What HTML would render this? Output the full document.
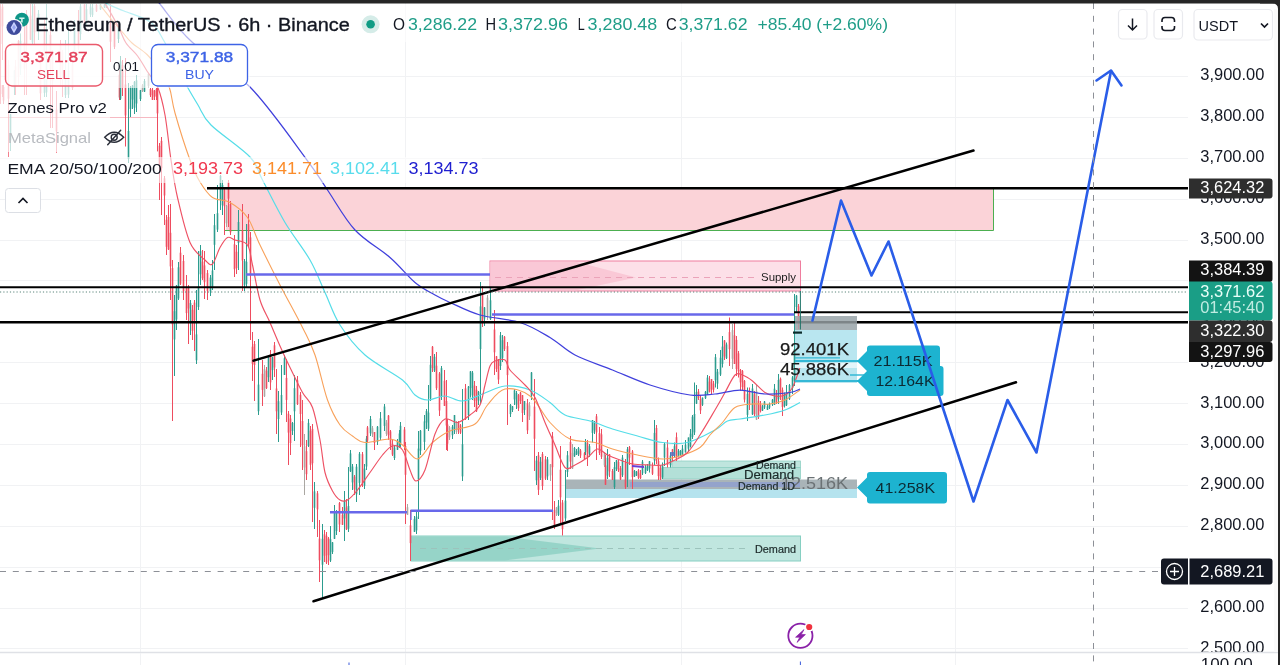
<!DOCTYPE html><html><head><meta charset="utf-8"><title>ETHUSDT chart</title>
<style>html,body{margin:0;padding:0;background:#fff;overflow:hidden}svg{display:block}text{font-family:"Liberation Sans",Arial,sans-serif}</style></head><body>
<svg width="1280" height="665" viewBox="0 0 1280 665">
<rect width="1280" height="665" fill="#fff"/>
<g stroke="#f1f2f4" stroke-width="1" shape-rendering="crispEdges">
<line x1="0" y1="648.5" x2="1188" y2="648.5"/>
<line x1="0" y1="608.5" x2="1188" y2="608.5"/>
<line x1="0" y1="567.5" x2="1188" y2="567.5"/>
<line x1="0" y1="526.5" x2="1188" y2="526.5"/>
<line x1="0" y1="485.5" x2="1188" y2="485.5"/>
<line x1="0" y1="444.5" x2="1188" y2="444.5"/>
<line x1="0" y1="403.5" x2="1188" y2="403.5"/>
<line x1="0" y1="362.5" x2="1188" y2="362.5"/>
<line x1="0" y1="321.5" x2="1188" y2="321.5"/>
<line x1="0" y1="280.5" x2="1188" y2="280.5"/>
<line x1="0" y1="240.5" x2="1188" y2="240.5"/>
<line x1="0" y1="199.5" x2="1188" y2="199.5"/>
<line x1="0" y1="158.5" x2="1188" y2="158.5"/>
<line x1="0" y1="117.5" x2="1188" y2="117.5"/>
<line x1="0" y1="76.5" x2="1188" y2="76.5"/>
<line x1="140.5" y1="3" x2="140.5" y2="665"/>
<line x1="405.5" y1="3" x2="405.5" y2="665"/>
<line x1="681.5" y1="3" x2="681.5" y2="665"/>
<line x1="955.5" y1="3" x2="955.5" y2="665"/>
</g>
<rect x="226" y="189" width="767" height="41.5" fill="#fbd3d8"/>
<path d="M224 230.5H993.5V189" fill="none" stroke="#4caf50" stroke-width="1"/>
<defs><linearGradient id="sg" x1="0" x2="1" y1="0" y2="0"><stop offset="0" stop-color="#f5a3bd"/><stop offset="1" stop-color="#f9c3d3"/></linearGradient>
<linearGradient id="dg" x1="0" x2="1" y1="0" y2="0"><stop offset="0" stop-color="#5dbdac"/><stop offset="1" stop-color="#8fd2c6"/></linearGradient></defs>
<rect x="490" y="261" width="310.5" height="30" fill="#fde0e8" stroke="#ef7d9e" stroke-width="1"/>
<path d="M490 261.5H575L636 277.5L575 290.5H490Z" fill="#f9c3d2" opacity="0.85"/>
<line x1="495" y1="277.5" x2="756" y2="277.5" stroke="#eba3b9" stroke-width="1" stroke-dasharray="6 5"/>
<text x="761" y="280.5" font-size="10.5" fill="#222" textLength="35" lengthAdjust="spacingAndGlyphs">Supply</text>
<rect x="411" y="536" width="389.5" height="25" fill="#c0e6df" stroke="#86cfc2" stroke-width="1"/>
<path d="M411 536.5H505L600 548.5L505 560.5H411Z" fill="#93d3c6" opacity="0.95"/>
<line x1="420" y1="548.5" x2="750" y2="548.5" stroke="#9cc3bc" stroke-width="1" stroke-dasharray="6 5"/>
<rect x="672" y="461" width="128.5" height="6.5" fill="#bfe5de" stroke="#8fd0c4" stroke-width="0.8"/>
<rect x="663" y="467.5" width="137.5" height="11.5" fill="#b3e0d8" stroke="#8fd0c4" stroke-width="0.8"/>
<rect x="566" y="479.5" width="291" height="9.5" fill="#a9b4b8"/>
<rect x="630" y="482" width="170" height="5" fill="#8f9fcf" opacity="0.8"/>
<rect x="566" y="489" width="291" height="9" fill="#b5e3ee"/>
<rect x="795" y="316" width="62" height="14" fill="#a7b1b5"/>
<rect x="795" y="330" width="62" height="53" fill="#b9e6f0"/>
<line x1="0" y1="117.5" x2="157" y2="117.5" stroke="#f6b9c2" stroke-width="1"/>
<g opacity="0.7"><rect x="0" y="4.0" width="1" height="100.0" fill="#ee4c5f"/><rect x="-0.3" y="9.0" width="1.6" height="35.0" fill="#ee4c5f"/><rect x="2" y="4.0" width="1" height="56.0" fill="#ee4c5f"/><rect x="1.7" y="6.8" width="1.6" height="19.6" fill="#ee4c5f"/><rect x="2" y="85.0" width="1" height="12.0" fill="#ee4c5f"/><rect x="1.7" y="85.2" width="1.6" height="8.9" fill="#ee4c5f"/><rect x="3" y="85.0" width="1" height="19.0" fill="#ee4c5f"/><rect x="2.7" y="87.0" width="1.6" height="13.5" fill="#ee4c5f"/><rect x="8" y="60.0" width="1" height="97.0" fill="#ee4c5f"/><rect x="7.7" y="64.8" width="1.6" height="33.9" fill="#ee4c5f"/><rect x="10" y="114.0" width="1" height="37.0" fill="#2c9c8e"/><rect x="9.7" y="114.4" width="1.6" height="26.0" fill="#2c9c8e"/><rect x="14" y="70.0" width="1" height="25.0" fill="#2c9c8e"/><rect x="13.7" y="70.6" width="1.6" height="17.0" fill="#2c9c8e"/><rect x="15" y="60.0" width="1" height="35.0" fill="#ee4c5f"/><rect x="14.7" y="66.3" width="1.6" height="20.2" fill="#ee4c5f"/><rect x="18" y="40.0" width="1" height="45.0" fill="#ee4c5f"/><rect x="17.7" y="41.1" width="1.6" height="35.9" fill="#ee4c5f"/><rect x="20" y="30.0" width="1" height="45.0" fill="#2c9c8e"/><rect x="19.7" y="40.8" width="1.6" height="27.8" fill="#2c9c8e"/><rect x="24" y="20.0" width="1" height="75.0" fill="#ee4c5f"/><rect x="23.7" y="42.5" width="1.6" height="26.2" fill="#ee4c5f"/><rect x="26" y="10.0" width="1" height="85.0" fill="#ee4c5f"/><rect x="25.7" y="14.2" width="1.6" height="29.7" fill="#ee4c5f"/><rect x="30" y="4.0" width="1" height="36.0" fill="#ee4c5f"/><rect x="29.7" y="15.6" width="1.6" height="24.1" fill="#ee4c5f"/><rect x="32" y="4.0" width="1" height="41.0" fill="#2c9c8e"/><rect x="31.7" y="19.3" width="1.6" height="23.1" fill="#2c9c8e"/><rect x="34" y="4.0" width="1" height="41.0" fill="#ee4c5f"/><rect x="33.7" y="6.1" width="1.6" height="26.1" fill="#ee4c5f"/><rect x="38" y="10.0" width="1" height="30.0" fill="#2c9c8e"/><rect x="37.7" y="13.8" width="1.6" height="17.6" fill="#2c9c8e"/><rect x="40" y="60.0" width="1" height="40.0" fill="#ee4c5f"/><rect x="39.7" y="61.5" width="1.6" height="31.8" fill="#ee4c5f"/><rect x="44" y="20.0" width="1" height="40.0" fill="#ee4c5f"/><rect x="43.7" y="27.0" width="1.6" height="29.0" fill="#ee4c5f"/><rect x="44" y="70.0" width="1" height="27.0" fill="#2c9c8e"/><rect x="43.7" y="75.0" width="1.6" height="17.9" fill="#2c9c8e"/><rect x="46" y="4.0" width="1" height="93.0" fill="#2c9c8e"/><rect x="45.7" y="59.8" width="1.6" height="32.5" fill="#2c9c8e"/><rect x="50" y="30.0" width="1" height="98.0" fill="#ee4c5f"/><rect x="49.7" y="34.9" width="1.6" height="34.3" fill="#ee4c5f"/><rect x="52" y="50.0" width="1" height="78.0" fill="#ee4c5f"/><rect x="51.7" y="53.9" width="1.6" height="27.3" fill="#ee4c5f"/><rect x="56" y="91.0" width="1" height="62.0" fill="#ee4c5f"/><rect x="55.7" y="109.6" width="1.6" height="21.7" fill="#ee4c5f"/><rect x="60" y="40.0" width="1" height="45.0" fill="#ee4c5f"/><rect x="59.7" y="44.5" width="1.6" height="30.5" fill="#ee4c5f"/><rect x="62" y="50.0" width="1" height="47.0" fill="#ee4c5f"/><rect x="61.7" y="52.4" width="1.6" height="16.4" fill="#ee4c5f"/><rect x="65" y="40.0" width="1" height="58.0" fill="#2c9c8e"/><rect x="64.7" y="74.8" width="1.6" height="20.3" fill="#2c9c8e"/><rect x="68" y="30.0" width="1" height="68.0" fill="#2c9c8e"/><rect x="67.7" y="70.8" width="1.6" height="23.8" fill="#2c9c8e"/><rect x="72" y="60.0" width="1" height="30.0" fill="#ee4c5f"/><rect x="71.7" y="64.4" width="1.6" height="23.6" fill="#ee4c5f"/><rect x="74" y="20.0" width="1" height="40.0" fill="#2c9c8e"/><rect x="73.7" y="28.7" width="1.6" height="24.9" fill="#2c9c8e"/><rect x="78" y="10.0" width="1" height="40.0" fill="#ee4c5f"/><rect x="77.7" y="20.2" width="1.6" height="28.3" fill="#ee4c5f"/><rect x="80" y="4.0" width="1" height="36.0" fill="#2c9c8e"/><rect x="79.7" y="6.4" width="1.6" height="27.7" fill="#2c9c8e"/><rect x="84" y="4.0" width="1" height="26.0" fill="#ee4c5f"/><rect x="83.7" y="4.5" width="1.6" height="21.9" fill="#ee4c5f"/><rect x="86" y="4.0" width="1" height="21.0" fill="#2c9c8e"/><rect x="85.7" y="9.2" width="1.6" height="14.2" fill="#2c9c8e"/><rect x="90" y="4.0" width="1" height="13.0" fill="#2c9c8e"/><rect x="89.7" y="6.6" width="1.6" height="7.7" fill="#2c9c8e"/><rect x="92" y="4.0" width="1" height="13.0" fill="#2c9c8e"/><rect x="91.7" y="7.8" width="1.6" height="7.3" fill="#2c9c8e"/><rect x="96" y="4.0" width="1" height="8.0" fill="#ee4c5f"/><rect x="95.7" y="5.0" width="1.6" height="6.2" fill="#ee4c5f"/><rect x="100" y="4.0" width="1" height="6.0" fill="#2c9c8e"/><rect x="99.7" y="4.4" width="1.6" height="4.9" fill="#2c9c8e"/><rect x="104" y="4.0" width="1" height="4.0" fill="#2c9c8e"/><rect x="103.7" y="4.6" width="1.6" height="3.0" fill="#2c9c8e"/><rect x="106" y="4.0" width="1" height="4.0" fill="#2c9c8e"/><rect x="105.7" y="4.5" width="1.6" height="2.9" fill="#2c9c8e"/></g>
<g><rect x="110" y="4.0" width="1" height="58.0" fill="#ee4c5f"/><rect x="109.7" y="21.4" width="1.6" height="20.3" fill="#ee4c5f"/><rect x="114" y="24.0" width="1" height="25.0" fill="#ee4c5f"/><rect x="113.7" y="26.0" width="1.6" height="20.8" fill="#ee4c5f"/><rect x="118" y="26.0" width="1" height="17.0" fill="#2c9c8e"/><rect x="117.7" y="26.3" width="1.6" height="12.7" fill="#2c9c8e"/><rect x="119" y="70.0" width="1" height="30.0" fill="#ee4c5f"/><rect x="118.7" y="74.7" width="1.6" height="22.8" fill="#ee4c5f"/><rect x="120" y="56.0" width="1" height="44.0" fill="#2c9c8e"/><rect x="119.7" y="61.5" width="1.6" height="37.3" fill="#2c9c8e"/><rect x="122" y="60.0" width="1" height="36.0" fill="#ee4c5f"/><rect x="121.7" y="65.1" width="1.6" height="22.9" fill="#ee4c5f"/><rect x="125" y="58.0" width="1" height="88.5" fill="#ee4c5f"/><rect x="124.7" y="84.5" width="1.6" height="31.0" fill="#ee4c5f"/><rect x="128" y="83.0" width="1" height="80.0" fill="#2c9c8e"/><rect x="127.7" y="131.0" width="1.6" height="28.0" fill="#2c9c8e"/><rect x="130" y="86.0" width="1" height="31.0" fill="#2c9c8e"/><rect x="129.7" y="87.6" width="1.6" height="21.3" fill="#2c9c8e"/><rect x="132" y="85.0" width="1" height="24.0" fill="#2c9c8e"/><rect x="131.7" y="85.6" width="1.6" height="14.0" fill="#2c9c8e"/><rect x="134" y="81.0" width="1" height="33.0" fill="#2c9c8e"/><rect x="133.7" y="81.9" width="1.6" height="25.8" fill="#2c9c8e"/><rect x="136" y="75.0" width="1" height="37.0" fill="#2c9c8e"/><rect x="135.7" y="80.4" width="1.6" height="23.1" fill="#2c9c8e"/><rect x="140" y="90.0" width="1" height="11.0" fill="#2c9c8e"/><rect x="139.7" y="90.2" width="1.6" height="8.9" fill="#2c9c8e"/><rect x="142" y="84.0" width="1" height="8.0" fill="#aaa7a2"/><rect x="141.7" y="85.4" width="1.6" height="5.5" fill="#aaa7a2"/><rect x="144" y="79.0" width="1" height="13.0" fill="#2c9c8e"/><rect x="143.7" y="81.0" width="1.6" height="10.6" fill="#2c9c8e"/><rect x="148" y="73.0" width="1" height="15.0" fill="#aaa7a2"/><rect x="147.7" y="73.8" width="1.6" height="12.1" fill="#aaa7a2"/><rect x="150" y="88.0" width="1" height="9.0" fill="#ee4c5f"/><rect x="149.7" y="89.1" width="1.6" height="6.1" fill="#ee4c5f"/><rect x="152" y="88.0" width="1" height="12.0" fill="#ee4c5f"/><rect x="151.7" y="90.1" width="1.6" height="9.8" fill="#ee4c5f"/><rect x="154" y="90.0" width="1" height="10.0" fill="#ee4c5f"/><rect x="153.7" y="90.7" width="1.6" height="6.0" fill="#ee4c5f"/><rect x="156" y="88.0" width="1" height="12.0" fill="#ee4c5f"/><rect x="155.7" y="89.1" width="1.6" height="7.4" fill="#ee4c5f"/><rect x="157" y="88.0" width="1" height="63.4" fill="#ee4c5f"/><rect x="156.7" y="91.2" width="1.6" height="22.2" fill="#ee4c5f"/><rect x="159" y="143.0" width="1" height="57.0" fill="#ee4c5f"/><rect x="158.7" y="145.8" width="1.6" height="19.9" fill="#ee4c5f"/></g>
<g><rect x="161" y="137.0" width="1" height="78.0" fill="#ee4c5f"/><rect x="160.7" y="140.9" width="1.6" height="27.3" fill="#ee4c5f"/><rect x="164" y="176.0" width="1" height="49.0" fill="#ee4c5f"/><rect x="163.7" y="178.4" width="1.6" height="17.1" fill="#ee4c5f"/><rect x="166" y="215.0" width="1" height="40.0" fill="#ee4c5f"/><rect x="165.7" y="219.8" width="1.6" height="27.0" fill="#ee4c5f"/><rect x="168" y="205.0" width="1" height="45.0" fill="#ee4c5f"/><rect x="167.7" y="217.0" width="1.6" height="32.4" fill="#ee4c5f"/><rect x="170" y="204.0" width="1" height="96.0" fill="#ee4c5f"/><rect x="169.7" y="232.8" width="1.6" height="33.6" fill="#ee4c5f"/><rect x="172" y="260.0" width="1" height="161.0" fill="#ee4c5f"/><rect x="171.7" y="268.1" width="1.6" height="56.3" fill="#ee4c5f"/><rect x="174" y="295.0" width="1" height="81.0" fill="#2c9c8e"/><rect x="173.7" y="311.2" width="1.6" height="28.3" fill="#2c9c8e"/><rect x="176" y="285.0" width="1" height="45.0" fill="#2c9c8e"/><rect x="175.7" y="285.6" width="1.6" height="33.9" fill="#2c9c8e"/><rect x="178" y="262.0" width="1" height="38.0" fill="#2c9c8e"/><rect x="177.7" y="267.3" width="1.6" height="31.2" fill="#2c9c8e"/><rect x="180" y="247.0" width="1" height="38.0" fill="#ee4c5f"/><rect x="179.7" y="252.7" width="1.6" height="30.9" fill="#ee4c5f"/><rect x="183" y="255.0" width="1" height="45.0" fill="#ee4c5f"/><rect x="182.7" y="261.0" width="1.6" height="30.0" fill="#ee4c5f"/><rect x="186" y="275.0" width="1" height="45.0" fill="#ee4c5f"/><rect x="185.7" y="287.0" width="1.6" height="26.1" fill="#ee4c5f"/><rect x="188" y="285.0" width="1" height="59.0" fill="#ee4c5f"/><rect x="187.7" y="287.9" width="1.6" height="20.6" fill="#ee4c5f"/><rect x="190" y="300.0" width="1" height="35.0" fill="#2c9c8e"/><rect x="189.7" y="303.1" width="1.6" height="20.0" fill="#2c9c8e"/><rect x="192" y="305.0" width="1" height="35.0" fill="#ee4c5f"/><rect x="191.7" y="309.8" width="1.6" height="21.0" fill="#ee4c5f"/><rect x="194" y="300.0" width="1" height="51.0" fill="#ee4c5f"/><rect x="193.7" y="302.6" width="1.6" height="17.8" fill="#ee4c5f"/><rect x="196" y="290.0" width="1" height="74.0" fill="#2c9c8e"/><rect x="195.7" y="334.4" width="1.6" height="25.9" fill="#2c9c8e"/><rect x="198" y="251.0" width="1" height="59.0" fill="#2c9c8e"/><rect x="197.7" y="286.4" width="1.6" height="20.6" fill="#2c9c8e"/><rect x="200" y="245.0" width="1" height="40.0" fill="#2c9c8e"/><rect x="199.7" y="251.1" width="1.6" height="23.2" fill="#2c9c8e"/><rect x="202" y="250.0" width="1" height="30.0" fill="#ee4c5f"/><rect x="201.7" y="261.6" width="1.6" height="16.7" fill="#ee4c5f"/><rect x="204" y="251.0" width="1" height="48.0" fill="#ee4c5f"/><rect x="203.7" y="265.4" width="1.6" height="16.8" fill="#ee4c5f"/><rect x="207" y="270.0" width="1" height="30.0" fill="#ee4c5f"/><rect x="206.7" y="273.1" width="1.6" height="17.8" fill="#ee4c5f"/><rect x="210" y="275.0" width="1" height="21.0" fill="#2c9c8e"/><rect x="209.7" y="277.6" width="1.6" height="13.7" fill="#2c9c8e"/><rect x="212" y="260.0" width="1" height="30.0" fill="#2c9c8e"/><rect x="211.7" y="270.5" width="1.6" height="17.6" fill="#2c9c8e"/><rect x="214" y="214.0" width="1" height="56.0" fill="#2c9c8e"/><rect x="213.7" y="225.2" width="1.6" height="19.6" fill="#2c9c8e"/><rect x="217" y="185.0" width="1" height="47.0" fill="#2c9c8e"/><rect x="216.7" y="213.2" width="1.6" height="16.4" fill="#2c9c8e"/><rect x="220" y="175.0" width="1" height="35.0" fill="#2c9c8e"/><rect x="219.7" y="175.9" width="1.6" height="24.3" fill="#2c9c8e"/><rect x="222" y="180.0" width="1" height="35.0" fill="#2c9c8e"/><rect x="221.7" y="185.0" width="1.6" height="20.3" fill="#2c9c8e"/><rect x="224" y="187.0" width="1" height="48.0" fill="#ee4c5f"/><rect x="223.7" y="189.4" width="1.6" height="16.8" fill="#ee4c5f"/><rect x="226" y="205.0" width="1" height="22.0" fill="#aaa7a2"/><rect x="225.7" y="205.7" width="1.6" height="17.6" fill="#aaa7a2"/><rect x="228" y="180.0" width="1" height="47.0" fill="#ee4c5f"/><rect x="227.7" y="182.3" width="1.6" height="16.4" fill="#ee4c5f"/><rect x="230" y="201.0" width="1" height="34.0" fill="#ee4c5f"/><rect x="229.7" y="204.0" width="1.6" height="28.4" fill="#ee4c5f"/><rect x="234" y="235.0" width="1" height="42.0" fill="#ee4c5f"/><rect x="233.7" y="244.3" width="1.6" height="24.9" fill="#ee4c5f"/><rect x="236" y="245.0" width="1" height="29.0" fill="#ee4c5f"/><rect x="235.7" y="251.8" width="1.6" height="16.2" fill="#ee4c5f"/><rect x="238" y="210.0" width="1" height="60.0" fill="#2c9c8e"/><rect x="237.7" y="222.0" width="1.6" height="21.0" fill="#2c9c8e"/><rect x="242" y="204.0" width="1" height="87.0" fill="#ee4c5f"/><rect x="241.7" y="230.1" width="1.6" height="30.4" fill="#ee4c5f"/><rect x="244" y="259.0" width="1" height="32.0" fill="#2c9c8e"/><rect x="243.7" y="261.0" width="1.6" height="24.3" fill="#2c9c8e"/><rect x="246" y="224.0" width="1" height="63.0" fill="#2c9c8e"/><rect x="245.7" y="261.8" width="1.6" height="22.0" fill="#2c9c8e"/><rect x="248" y="214.0" width="1" height="33.0" fill="#ee4c5f"/><rect x="247.7" y="224.2" width="1.6" height="19.8" fill="#ee4c5f"/><rect x="250" y="232.0" width="1" height="108.0" fill="#ee4c5f"/><rect x="249.7" y="237.4" width="1.6" height="37.8" fill="#ee4c5f"/><rect x="252" y="332.0" width="1" height="49.0" fill="#ee4c5f"/><rect x="251.7" y="346.7" width="1.6" height="17.1" fill="#ee4c5f"/><rect x="254" y="341.0" width="1" height="60.0" fill="#ee4c5f"/><rect x="253.7" y="344.0" width="1.6" height="21.0" fill="#ee4c5f"/><rect x="258" y="339.0" width="1" height="76.0" fill="#2c9c8e"/><rect x="257.7" y="384.6" width="1.6" height="26.6" fill="#2c9c8e"/><rect x="262" y="360.0" width="1" height="46.0" fill="#ee4c5f"/><rect x="261.7" y="373.8" width="1.6" height="16.1" fill="#ee4c5f"/><rect x="264" y="365.0" width="1" height="32.0" fill="#aaa7a2"/><rect x="263.7" y="369.2" width="1.6" height="27.1" fill="#aaa7a2"/><rect x="266" y="367.0" width="1" height="22.0" fill="#ee4c5f"/><rect x="265.7" y="370.7" width="1.6" height="17.4" fill="#ee4c5f"/><rect x="268" y="355.0" width="1" height="27.0" fill="#2c9c8e"/><rect x="267.7" y="356.4" width="1.6" height="20.8" fill="#2c9c8e"/><rect x="270" y="350.0" width="1" height="40.0" fill="#ee4c5f"/><rect x="269.7" y="354.2" width="1.6" height="28.2" fill="#ee4c5f"/><rect x="272" y="357.0" width="1" height="23.0" fill="#2c9c8e"/><rect x="271.7" y="357.3" width="1.6" height="12.8" fill="#2c9c8e"/><rect x="274" y="342.0" width="1" height="35.0" fill="#ee4c5f"/><rect x="273.7" y="345.3" width="1.6" height="22.2" fill="#ee4c5f"/><rect x="276" y="369.0" width="1" height="65.0" fill="#ee4c5f"/><rect x="275.7" y="388.5" width="1.6" height="22.8" fill="#ee4c5f"/><rect x="278" y="391.0" width="1" height="51.0" fill="#2c9c8e"/><rect x="277.7" y="401.2" width="1.6" height="17.8" fill="#2c9c8e"/><rect x="281" y="365.0" width="1" height="50.0" fill="#2c9c8e"/><rect x="280.7" y="395.0" width="1.6" height="17.5" fill="#2c9c8e"/><rect x="284" y="355.0" width="1" height="20.0" fill="#2c9c8e"/><rect x="283.7" y="358.3" width="1.6" height="16.6" fill="#2c9c8e"/><rect x="286" y="359.0" width="1" height="63.0" fill="#ee4c5f"/><rect x="285.7" y="377.9" width="1.6" height="22.0" fill="#ee4c5f"/><rect x="288" y="411.0" width="1" height="54.0" fill="#ee4c5f"/><rect x="287.7" y="413.7" width="1.6" height="18.9" fill="#ee4c5f"/><rect x="290" y="415.0" width="1" height="40.0" fill="#ee4c5f"/><rect x="289.7" y="418.5" width="1.6" height="24.6" fill="#ee4c5f"/><rect x="292" y="422.0" width="1" height="13.0" fill="#2c9c8e"/><rect x="291.7" y="423.0" width="1.6" height="7.9" fill="#2c9c8e"/><rect x="294" y="375.0" width="1" height="66.0" fill="#2c9c8e"/><rect x="293.7" y="388.2" width="1.6" height="23.1" fill="#2c9c8e"/><rect x="297" y="376.0" width="1" height="29.0" fill="#ee4c5f"/><rect x="296.7" y="380.4" width="1.6" height="23.8" fill="#ee4c5f"/><rect x="300" y="392.0" width="1" height="55.0" fill="#ee4c5f"/><rect x="299.7" y="394.8" width="1.6" height="19.2" fill="#ee4c5f"/><rect x="302" y="400.0" width="1" height="70.0" fill="#ee4c5f"/><rect x="301.7" y="421.0" width="1.6" height="24.5" fill="#ee4c5f"/><rect x="304" y="434.0" width="1" height="61.0" fill="#aaa7a2"/><rect x="303.7" y="446.2" width="1.6" height="21.3" fill="#aaa7a2"/><rect x="306" y="440.0" width="1" height="40.0" fill="#ee4c5f"/><rect x="305.7" y="451.2" width="1.6" height="23.0" fill="#ee4c5f"/><rect x="308" y="419.0" width="1" height="28.0" fill="#2c9c8e"/><rect x="307.7" y="422.9" width="1.6" height="23.0" fill="#2c9c8e"/><rect x="310" y="426.0" width="1" height="44.0" fill="#ee4c5f"/><rect x="309.7" y="430.7" width="1.6" height="34.1" fill="#ee4c5f"/><rect x="312" y="424.0" width="1" height="98.0" fill="#ee4c5f"/><rect x="311.7" y="428.9" width="1.6" height="34.3" fill="#ee4c5f"/><rect x="314" y="482.0" width="1" height="47.0" fill="#2c9c8e"/><rect x="313.7" y="491.4" width="1.6" height="16.4" fill="#2c9c8e"/><rect x="317" y="491.0" width="1" height="46.0" fill="#ee4c5f"/><rect x="316.7" y="493.3" width="1.6" height="16.1" fill="#ee4c5f"/><rect x="319" y="520.0" width="1" height="62.0" fill="#ee4c5f"/><rect x="318.7" y="538.6" width="1.6" height="21.7" fill="#ee4c5f"/><rect x="322" y="524.0" width="1" height="74.0" fill="#2c9c8e"/><rect x="321.7" y="538.8" width="1.6" height="25.9" fill="#2c9c8e"/><rect x="324" y="530.0" width="1" height="32.0" fill="#ee4c5f"/><rect x="323.7" y="534.3" width="1.6" height="21.4" fill="#ee4c5f"/><rect x="326" y="532.0" width="1" height="32.0" fill="#ee4c5f"/><rect x="325.7" y="535.8" width="1.6" height="26.7" fill="#ee4c5f"/><rect x="328" y="537.0" width="1" height="28.0" fill="#ee4c5f"/><rect x="327.7" y="538.4" width="1.6" height="16.8" fill="#ee4c5f"/><rect x="330" y="526.0" width="1" height="36.0" fill="#2c9c8e"/><rect x="329.7" y="539.2" width="1.6" height="21.4" fill="#2c9c8e"/><rect x="332" y="542.0" width="1" height="12.0" fill="#2c9c8e"/><rect x="331.7" y="542.4" width="1.6" height="9.5" fill="#2c9c8e"/><rect x="334" y="505.0" width="1" height="34.0" fill="#2c9c8e"/><rect x="333.7" y="511.7" width="1.6" height="27.1" fill="#2c9c8e"/><rect x="336" y="510.0" width="1" height="25.0" fill="#2c9c8e"/><rect x="335.7" y="512.2" width="1.6" height="18.7" fill="#2c9c8e"/><rect x="339" y="502.0" width="1" height="30.0" fill="#ee4c5f"/><rect x="338.7" y="503.1" width="1.6" height="21.4" fill="#ee4c5f"/><rect x="342" y="507.0" width="1" height="18.0" fill="#ee4c5f"/><rect x="341.7" y="514.8" width="1.6" height="10.0" fill="#ee4c5f"/><rect x="344" y="491.0" width="1" height="50.0" fill="#2c9c8e"/><rect x="343.7" y="501.0" width="1.6" height="17.5" fill="#2c9c8e"/><rect x="346" y="499.0" width="1" height="31.0" fill="#ee4c5f"/><rect x="345.7" y="507.5" width="1.6" height="21.9" fill="#ee4c5f"/><rect x="348" y="467.0" width="1" height="65.0" fill="#2c9c8e"/><rect x="347.7" y="506.0" width="1.6" height="22.8" fill="#2c9c8e"/><rect x="350" y="450.0" width="1" height="22.0" fill="#2c9c8e"/><rect x="349.7" y="453.4" width="1.6" height="17.9" fill="#2c9c8e"/><rect x="352" y="464.0" width="1" height="26.0" fill="#2c9c8e"/><rect x="351.7" y="466.5" width="1.6" height="15.9" fill="#2c9c8e"/><rect x="354" y="475.0" width="1" height="20.0" fill="#ee4c5f"/><rect x="353.7" y="476.7" width="1.6" height="12.8" fill="#ee4c5f"/><rect x="356" y="464.0" width="1" height="38.0" fill="#2c9c8e"/><rect x="355.7" y="466.7" width="1.6" height="27.6" fill="#2c9c8e"/><rect x="359" y="452.0" width="1" height="43.0" fill="#2c9c8e"/><rect x="358.7" y="453.8" width="1.6" height="29.1" fill="#2c9c8e"/><rect x="362" y="452.0" width="1" height="35.0" fill="#ee4c5f"/><rect x="361.7" y="454.2" width="1.6" height="28.8" fill="#ee4c5f"/><rect x="364" y="464.0" width="1" height="25.0" fill="#2c9c8e"/><rect x="363.7" y="468.6" width="1.6" height="17.2" fill="#2c9c8e"/><rect x="366" y="436.0" width="1" height="34.0" fill="#2c9c8e"/><rect x="365.7" y="438.6" width="1.6" height="27.9" fill="#2c9c8e"/><rect x="367" y="426.0" width="1" height="16.0" fill="#ee4c5f"/><rect x="366.7" y="427.4" width="1.6" height="13.2" fill="#ee4c5f"/><rect x="370" y="416.0" width="1" height="20.0" fill="#2c9c8e"/><rect x="369.7" y="419.0" width="1.6" height="14.2" fill="#2c9c8e"/><rect x="372" y="426.0" width="1" height="11.0" fill="#aaa7a2"/><rect x="371.7" y="428.2" width="1.6" height="6.1" fill="#aaa7a2"/><rect x="374" y="432.0" width="1" height="18.0" fill="#ee4c5f"/><rect x="373.7" y="432.0" width="1.6" height="10.9" fill="#ee4c5f"/><rect x="377" y="426.0" width="1" height="19.0" fill="#2c9c8e"/><rect x="376.7" y="426.7" width="1.6" height="15.0" fill="#2c9c8e"/><rect x="380" y="412.0" width="1" height="28.0" fill="#2c9c8e"/><rect x="379.7" y="418.3" width="1.6" height="19.4" fill="#2c9c8e"/><rect x="384" y="404.0" width="1" height="27.0" fill="#2c9c8e"/><rect x="383.7" y="406.5" width="1.6" height="19.4" fill="#2c9c8e"/><rect x="386" y="420.0" width="1" height="16.0" fill="#aaa7a2"/><rect x="385.7" y="422.6" width="1.6" height="11.3" fill="#aaa7a2"/><rect x="388" y="415.0" width="1" height="25.0" fill="#ee4c5f"/><rect x="387.7" y="415.6" width="1.6" height="19.6" fill="#ee4c5f"/><rect x="390" y="430.0" width="1" height="20.0" fill="#ee4c5f"/><rect x="389.7" y="431.4" width="1.6" height="14.4" fill="#ee4c5f"/><rect x="392" y="439.0" width="1" height="17.0" fill="#ee4c5f"/><rect x="391.7" y="443.8" width="1.6" height="10.8" fill="#ee4c5f"/><rect x="394" y="445.0" width="1" height="15.0" fill="#2c9c8e"/><rect x="393.7" y="447.5" width="1.6" height="10.5" fill="#2c9c8e"/><rect x="397" y="439.0" width="1" height="11.0" fill="#2c9c8e"/><rect x="396.7" y="441.2" width="1.6" height="8.6" fill="#2c9c8e"/><rect x="399" y="430.0" width="1" height="18.0" fill="#2c9c8e"/><rect x="398.7" y="433.5" width="1.6" height="12.3" fill="#2c9c8e"/><rect x="400" y="422.0" width="1" height="25.0" fill="#2c9c8e"/><rect x="399.7" y="425.8" width="1.6" height="17.5" fill="#2c9c8e"/><rect x="404" y="427.0" width="1" height="23.0" fill="#ee4c5f"/><rect x="403.7" y="429.5" width="1.6" height="17.4" fill="#ee4c5f"/><rect x="405" y="442.0" width="1" height="82.0" fill="#ee4c5f"/><rect x="404.7" y="446.1" width="1.6" height="28.7" fill="#ee4c5f"/><rect x="407" y="504.0" width="1" height="11.0" fill="#aaa7a2"/><rect x="406.7" y="507.2" width="1.6" height="7.6" fill="#aaa7a2"/><rect x="410" y="510.0" width="1" height="51.0" fill="#ee4c5f"/><rect x="409.7" y="525.3" width="1.6" height="17.8" fill="#ee4c5f"/><rect x="414" y="516.0" width="1" height="16.0" fill="#2c9c8e"/><rect x="413.7" y="518.8" width="1.6" height="13.0" fill="#2c9c8e"/><rect x="416" y="512.0" width="1" height="22.0" fill="#2c9c8e"/><rect x="415.7" y="516.6" width="1.6" height="13.8" fill="#2c9c8e"/><rect x="418" y="431.0" width="1" height="88.0" fill="#2c9c8e"/><rect x="417.7" y="448.6" width="1.6" height="30.8" fill="#2c9c8e"/><rect x="420" y="430.0" width="1" height="25.0" fill="#2c9c8e"/><rect x="419.7" y="430.7" width="1.6" height="20.0" fill="#2c9c8e"/><rect x="424" y="415.0" width="1" height="35.0" fill="#2c9c8e"/><rect x="423.7" y="421.4" width="1.6" height="20.5" fill="#2c9c8e"/><rect x="426" y="409.0" width="1" height="20.0" fill="#2c9c8e"/><rect x="425.7" y="411.1" width="1.6" height="11.4" fill="#2c9c8e"/><rect x="428" y="385.0" width="1" height="46.0" fill="#2c9c8e"/><rect x="427.7" y="412.6" width="1.6" height="16.1" fill="#2c9c8e"/><rect x="430" y="356.0" width="1" height="45.0" fill="#2c9c8e"/><rect x="429.7" y="364.8" width="1.6" height="33.8" fill="#2c9c8e"/><rect x="432" y="346.0" width="1" height="26.0" fill="#ee4c5f"/><rect x="431.7" y="346.7" width="1.6" height="21.3" fill="#ee4c5f"/><rect x="434" y="354.0" width="1" height="18.0" fill="#2c9c8e"/><rect x="433.7" y="356.8" width="1.6" height="13.8" fill="#2c9c8e"/><rect x="436" y="352.0" width="1" height="38.0" fill="#ee4c5f"/><rect x="435.7" y="365.7" width="1.6" height="22.5" fill="#ee4c5f"/><rect x="439" y="372.0" width="1" height="44.0" fill="#ee4c5f"/><rect x="438.7" y="373.5" width="1.6" height="37.0" fill="#ee4c5f"/><rect x="441" y="366.0" width="1" height="34.0" fill="#2c9c8e"/><rect x="440.7" y="368.2" width="1.6" height="28.4" fill="#2c9c8e"/><rect x="444" y="370.0" width="1" height="36.0" fill="#ee4c5f"/><rect x="443.7" y="380.8" width="1.6" height="25.1" fill="#ee4c5f"/><rect x="446" y="380.0" width="1" height="70.0" fill="#ee4c5f"/><rect x="445.7" y="401.0" width="1.6" height="24.5" fill="#ee4c5f"/><rect x="447" y="419.0" width="1" height="32.0" fill="#ee4c5f"/><rect x="446.7" y="424.5" width="1.6" height="19.2" fill="#ee4c5f"/><rect x="449" y="426.0" width="1" height="14.0" fill="#aaa7a2"/><rect x="448.7" y="427.4" width="1.6" height="9.9" fill="#aaa7a2"/><rect x="452" y="425.0" width="1" height="14.0" fill="#2c9c8e"/><rect x="451.7" y="426.7" width="1.6" height="8.5" fill="#2c9c8e"/><rect x="454" y="415.0" width="1" height="19.0" fill="#2c9c8e"/><rect x="453.7" y="415.1" width="1.6" height="14.6" fill="#2c9c8e"/><rect x="456" y="421.0" width="1" height="13.0" fill="#aaa7a2"/><rect x="455.7" y="422.6" width="1.6" height="9.3" fill="#aaa7a2"/><rect x="458" y="421.0" width="1" height="13.0" fill="#ee4c5f"/><rect x="457.7" y="422.9" width="1.6" height="7.2" fill="#ee4c5f"/><rect x="460" y="424.0" width="1" height="10.0" fill="#ee4c5f"/><rect x="459.7" y="425.3" width="1.6" height="7.4" fill="#ee4c5f"/><rect x="462" y="389.0" width="1" height="92.0" fill="#2c9c8e"/><rect x="461.7" y="444.2" width="1.6" height="32.2" fill="#2c9c8e"/><rect x="465" y="384.0" width="1" height="36.0" fill="#ee4c5f"/><rect x="464.7" y="388.4" width="1.6" height="30.4" fill="#ee4c5f"/><rect x="468" y="386.0" width="1" height="34.0" fill="#2c9c8e"/><rect x="467.7" y="386.6" width="1.6" height="28.6" fill="#2c9c8e"/><rect x="470" y="371.0" width="1" height="26.5" fill="#2c9c8e"/><rect x="469.7" y="371.4" width="1.6" height="16.7" fill="#2c9c8e"/><rect x="472" y="371.0" width="1" height="29.0" fill="#2c9c8e"/><rect x="471.7" y="372.7" width="1.6" height="22.7" fill="#2c9c8e"/><rect x="474" y="381.0" width="1" height="26.0" fill="#ee4c5f"/><rect x="473.7" y="385.5" width="1.6" height="15.3" fill="#ee4c5f"/><rect x="476" y="386.0" width="1" height="26.0" fill="#ee4c5f"/><rect x="475.7" y="389.8" width="1.6" height="21.4" fill="#ee4c5f"/><rect x="478" y="391.0" width="1" height="14.0" fill="#2c9c8e"/><rect x="477.7" y="391.8" width="1.6" height="8.8" fill="#2c9c8e"/><rect x="480" y="282.0" width="1" height="122.0" fill="#2c9c8e"/><rect x="479.7" y="306.4" width="1.6" height="42.7" fill="#2c9c8e"/><rect x="482" y="286.0" width="1" height="41.0" fill="#ee4c5f"/><rect x="481.7" y="294.0" width="1.6" height="29.6" fill="#ee4c5f"/><rect x="484" y="307.0" width="1" height="19.0" fill="#2c9c8e"/><rect x="483.7" y="307.5" width="1.6" height="11.0" fill="#2c9c8e"/><rect x="487" y="295.0" width="1" height="25.0" fill="#aaa7a2"/><rect x="486.7" y="297.6" width="1.6" height="18.9" fill="#aaa7a2"/><rect x="490" y="287.0" width="1" height="33.0" fill="#2c9c8e"/><rect x="489.7" y="300.3" width="1.6" height="18.9" fill="#2c9c8e"/><rect x="494" y="310.0" width="1" height="65.0" fill="#ee4c5f"/><rect x="493.7" y="329.5" width="1.6" height="22.8" fill="#ee4c5f"/><rect x="496" y="356.0" width="1" height="16.0" fill="#ee4c5f"/><rect x="495.7" y="356.3" width="1.6" height="12.6" fill="#ee4c5f"/><rect x="498" y="359.0" width="1" height="25.0" fill="#ee4c5f"/><rect x="497.7" y="359.3" width="1.6" height="20.2" fill="#ee4c5f"/><rect x="500" y="332.0" width="1" height="38.0" fill="#2c9c8e"/><rect x="499.7" y="335.3" width="1.6" height="30.7" fill="#2c9c8e"/><rect x="502" y="335.0" width="1" height="27.0" fill="#2c9c8e"/><rect x="501.7" y="340.2" width="1.6" height="17.6" fill="#2c9c8e"/><rect x="504" y="336.0" width="1" height="15.0" fill="#ee4c5f"/><rect x="503.7" y="336.7" width="1.6" height="12.4" fill="#ee4c5f"/><rect x="507" y="342.0" width="1" height="83.0" fill="#ee4c5f"/><rect x="506.7" y="346.1" width="1.6" height="29.0" fill="#ee4c5f"/><rect x="510" y="404.0" width="1" height="13.0" fill="#2c9c8e"/><rect x="509.7" y="404.9" width="1.6" height="9.2" fill="#2c9c8e"/><rect x="512" y="406.0" width="1" height="6.0" fill="#2c9c8e"/><rect x="511.7" y="406.4" width="1.6" height="3.5" fill="#2c9c8e"/><rect x="514" y="389.0" width="1" height="16.0" fill="#2c9c8e"/><rect x="513.7" y="390.4" width="1.6" height="9.0" fill="#2c9c8e"/><rect x="516" y="391.0" width="1" height="18.0" fill="#2c9c8e"/><rect x="515.7" y="393.0" width="1.6" height="11.6" fill="#2c9c8e"/><rect x="518" y="394.0" width="1" height="17.0" fill="#ee4c5f"/><rect x="517.7" y="395.1" width="1.6" height="13.2" fill="#ee4c5f"/><rect x="520" y="392.0" width="1" height="12.0" fill="#ee4c5f"/><rect x="519.7" y="392.6" width="1.6" height="8.4" fill="#ee4c5f"/><rect x="522" y="395.0" width="1" height="27.0" fill="#ee4c5f"/><rect x="521.7" y="395.2" width="1.6" height="17.7" fill="#ee4c5f"/><rect x="524" y="401.0" width="1" height="14.0" fill="#2c9c8e"/><rect x="523.7" y="401.1" width="1.6" height="8.8" fill="#2c9c8e"/><rect x="527" y="399.0" width="1" height="35.0" fill="#ee4c5f"/><rect x="526.7" y="403.4" width="1.6" height="26.9" fill="#ee4c5f"/><rect x="529" y="402.0" width="1" height="18.0" fill="#aaa7a2"/><rect x="528.7" y="405.4" width="1.6" height="10.9" fill="#aaa7a2"/><rect x="531" y="372.0" width="1" height="28.0" fill="#2c9c8e"/><rect x="530.7" y="372.5" width="1.6" height="23.3" fill="#2c9c8e"/><rect x="534" y="379.0" width="1" height="92.0" fill="#ee4c5f"/><rect x="533.7" y="406.6" width="1.6" height="32.2" fill="#ee4c5f"/><rect x="536" y="456.0" width="1" height="29.0" fill="#2c9c8e"/><rect x="535.7" y="460.6" width="1.6" height="19.7" fill="#2c9c8e"/><rect x="538" y="452.0" width="1" height="43.0" fill="#ee4c5f"/><rect x="537.7" y="455.4" width="1.6" height="34.4" fill="#ee4c5f"/><rect x="540" y="457.0" width="1" height="23.0" fill="#2c9c8e"/><rect x="539.7" y="461.7" width="1.6" height="16.1" fill="#2c9c8e"/><rect x="542" y="452.0" width="1" height="38.0" fill="#ee4c5f"/><rect x="541.7" y="454.0" width="1.6" height="32.1" fill="#ee4c5f"/><rect x="545" y="456.0" width="1" height="24.0" fill="#ee4c5f"/><rect x="544.7" y="459.4" width="1.6" height="19.2" fill="#ee4c5f"/><rect x="547" y="457.0" width="1" height="23.0" fill="#2c9c8e"/><rect x="546.7" y="459.4" width="1.6" height="17.0" fill="#2c9c8e"/><rect x="550" y="464.0" width="1" height="17.0" fill="#aaa7a2"/><rect x="549.7" y="464.3" width="1.6" height="11.1" fill="#aaa7a2"/><rect x="552" y="432.0" width="1" height="88.0" fill="#ee4c5f"/><rect x="551.7" y="436.4" width="1.6" height="30.8" fill="#ee4c5f"/><rect x="554" y="501.0" width="1" height="28.0" fill="#ee4c5f"/><rect x="553.7" y="509.9" width="1.6" height="16.0" fill="#ee4c5f"/><rect x="556" y="507.0" width="1" height="9.0" fill="#aaa7a2"/><rect x="555.7" y="507.5" width="1.6" height="5.6" fill="#aaa7a2"/><rect x="558" y="500.0" width="1" height="16.0" fill="#2c9c8e"/><rect x="557.7" y="505.7" width="1.6" height="9.2" fill="#2c9c8e"/><rect x="560" y="446.0" width="1" height="79.0" fill="#ee4c5f"/><rect x="559.7" y="469.7" width="1.6" height="27.6" fill="#ee4c5f"/><rect x="562" y="500.0" width="1" height="35.5" fill="#ee4c5f"/><rect x="561.7" y="502.5" width="1.6" height="26.7" fill="#ee4c5f"/><rect x="565" y="470.0" width="1" height="51.0" fill="#2c9c8e"/><rect x="564.7" y="500.6" width="1.6" height="17.8" fill="#2c9c8e"/><rect x="567" y="451.0" width="1" height="26.0" fill="#2c9c8e"/><rect x="566.7" y="455.3" width="1.6" height="16.6" fill="#2c9c8e"/><rect x="570" y="436.0" width="1" height="33.0" fill="#ee4c5f"/><rect x="569.7" y="441.9" width="1.6" height="19.7" fill="#ee4c5f"/><rect x="572" y="444.0" width="1" height="25.0" fill="#aaa7a2"/><rect x="571.7" y="452.9" width="1.6" height="15.7" fill="#aaa7a2"/><rect x="574" y="447.0" width="1" height="10.0" fill="#2c9c8e"/><rect x="573.7" y="447.9" width="1.6" height="8.4" fill="#2c9c8e"/><rect x="576" y="449.0" width="1" height="6.0" fill="#2c9c8e"/><rect x="575.7" y="451.2" width="1.6" height="3.7" fill="#2c9c8e"/><rect x="578" y="447.0" width="1" height="9.0" fill="#2c9c8e"/><rect x="577.7" y="448.1" width="1.6" height="5.8" fill="#2c9c8e"/><rect x="580" y="449.0" width="1" height="9.0" fill="#ee4c5f"/><rect x="579.7" y="450.5" width="1.6" height="5.0" fill="#ee4c5f"/><rect x="584" y="452.0" width="1" height="8.0" fill="#ee4c5f"/><rect x="583.7" y="453.2" width="1.6" height="5.5" fill="#ee4c5f"/><rect x="585" y="439.0" width="1" height="16.0" fill="#2c9c8e"/><rect x="584.7" y="442.1" width="1.6" height="9.8" fill="#2c9c8e"/><rect x="587" y="440.0" width="1" height="26.0" fill="#ee4c5f"/><rect x="586.7" y="443.1" width="1.6" height="14.3" fill="#ee4c5f"/><rect x="589" y="444.0" width="1" height="13.0" fill="#2c9c8e"/><rect x="588.7" y="446.2" width="1.6" height="7.5" fill="#2c9c8e"/><rect x="592" y="420.0" width="1" height="22.5" fill="#2c9c8e"/><rect x="591.7" y="420.2" width="1.6" height="12.7" fill="#2c9c8e"/><rect x="594" y="421.0" width="1" height="13.0" fill="#2c9c8e"/><rect x="593.7" y="422.1" width="1.6" height="8.3" fill="#2c9c8e"/><rect x="596" y="414.0" width="1" height="46.0" fill="#ee4c5f"/><rect x="595.7" y="416.3" width="1.6" height="16.1" fill="#ee4c5f"/><rect x="599" y="427.0" width="1" height="28.0" fill="#ee4c5f"/><rect x="598.7" y="433.1" width="1.6" height="19.8" fill="#ee4c5f"/><rect x="601" y="429.0" width="1" height="30.0" fill="#ee4c5f"/><rect x="600.7" y="434.4" width="1.6" height="22.4" fill="#ee4c5f"/><rect x="604" y="452.0" width="1" height="15.0" fill="#aaa7a2"/><rect x="603.7" y="453.1" width="1.6" height="12.2" fill="#aaa7a2"/><rect x="605" y="455.0" width="1" height="30.0" fill="#ee4c5f"/><rect x="604.7" y="465.4" width="1.6" height="19.4" fill="#ee4c5f"/><rect x="607" y="449.0" width="1" height="30.0" fill="#2c9c8e"/><rect x="606.7" y="457.8" width="1.6" height="17.8" fill="#2c9c8e"/><rect x="609" y="454.0" width="1" height="23.0" fill="#ee4c5f"/><rect x="608.7" y="454.3" width="1.6" height="17.1" fill="#ee4c5f"/><rect x="612" y="469.0" width="1" height="11.0" fill="#ee4c5f"/><rect x="611.7" y="471.0" width="1.6" height="8.8" fill="#ee4c5f"/><rect x="614" y="462.0" width="1" height="27.0" fill="#2c9c8e"/><rect x="613.7" y="467.2" width="1.6" height="19.9" fill="#2c9c8e"/><rect x="616" y="460.0" width="1" height="11.0" fill="#2c9c8e"/><rect x="615.7" y="460.3" width="1.6" height="8.7" fill="#2c9c8e"/><rect x="618" y="460.0" width="1" height="12.0" fill="#ee4c5f"/><rect x="617.7" y="461.8" width="1.6" height="8.5" fill="#ee4c5f"/><rect x="620" y="466.0" width="1" height="14.0" fill="#ee4c5f"/><rect x="619.7" y="468.2" width="1.6" height="11.2" fill="#ee4c5f"/><rect x="622" y="455.0" width="1" height="22.0" fill="#2c9c8e"/><rect x="621.7" y="457.6" width="1.6" height="17.6" fill="#2c9c8e"/><rect x="625" y="459.0" width="1" height="30.0" fill="#ee4c5f"/><rect x="624.7" y="462.7" width="1.6" height="24.5" fill="#ee4c5f"/><rect x="627" y="447.0" width="1" height="40.0" fill="#2c9c8e"/><rect x="626.7" y="449.2" width="1.6" height="30.3" fill="#2c9c8e"/><rect x="629" y="446.0" width="1" height="19.0" fill="#ee4c5f"/><rect x="628.7" y="447.1" width="1.6" height="10.6" fill="#ee4c5f"/><rect x="632" y="450.0" width="1" height="39.0" fill="#ee4c5f"/><rect x="631.7" y="451.4" width="1.6" height="25.7" fill="#ee4c5f"/><rect x="634" y="470.0" width="1" height="7.0" fill="#2c9c8e"/><rect x="633.7" y="470.8" width="1.6" height="5.6" fill="#2c9c8e"/><rect x="636" y="471.0" width="1" height="5.0" fill="#2c9c8e"/><rect x="635.7" y="471.8" width="1.6" height="3.7" fill="#2c9c8e"/><rect x="638" y="469.0" width="1" height="10.0" fill="#ee4c5f"/><rect x="637.7" y="470.2" width="1.6" height="7.5" fill="#ee4c5f"/><rect x="640" y="470.0" width="1" height="9.0" fill="#ee4c5f"/><rect x="639.7" y="473.2" width="1.6" height="5.0" fill="#ee4c5f"/><rect x="642" y="460.0" width="1" height="15.0" fill="#2c9c8e"/><rect x="641.7" y="461.7" width="1.6" height="11.6" fill="#2c9c8e"/><rect x="645" y="465.0" width="1" height="9.0" fill="#2c9c8e"/><rect x="644.7" y="466.7" width="1.6" height="6.4" fill="#2c9c8e"/><rect x="647" y="464.0" width="1" height="7.0" fill="#2c9c8e"/><rect x="646.7" y="466.2" width="1.6" height="4.0" fill="#2c9c8e"/><rect x="649" y="461.0" width="1" height="11.5" fill="#2c9c8e"/><rect x="648.7" y="461.3" width="1.6" height="7.2" fill="#2c9c8e"/><rect x="652" y="462.5" width="1" height="12.5" fill="#ee4c5f"/><rect x="651.7" y="465.9" width="1.6" height="7.9" fill="#ee4c5f"/><rect x="654" y="420.0" width="1" height="45.0" fill="#2c9c8e"/><rect x="653.7" y="432.9" width="1.6" height="27.5" fill="#2c9c8e"/><rect x="656" y="425.0" width="1" height="39.0" fill="#ee4c5f"/><rect x="655.7" y="428.0" width="1.6" height="32.9" fill="#ee4c5f"/><rect x="658" y="457.5" width="1" height="22.5" fill="#ee4c5f"/><rect x="657.7" y="461.1" width="1.6" height="15.0" fill="#ee4c5f"/><rect x="660" y="465.0" width="1" height="15.0" fill="#ee4c5f"/><rect x="659.7" y="467.8" width="1.6" height="11.3" fill="#ee4c5f"/><rect x="662" y="462.5" width="1" height="16.5" fill="#2c9c8e"/><rect x="661.7" y="465.3" width="1.6" height="12.1" fill="#2c9c8e"/><rect x="664" y="442.5" width="1" height="23.5" fill="#2c9c8e"/><rect x="663.7" y="444.0" width="1.6" height="13.5" fill="#2c9c8e"/><rect x="667" y="440.0" width="1" height="27.5" fill="#ee4c5f"/><rect x="666.7" y="447.6" width="1.6" height="17.2" fill="#ee4c5f"/><rect x="670" y="452.5" width="1" height="15.0" fill="#2c9c8e"/><rect x="669.7" y="455.6" width="1.6" height="9.6" fill="#2c9c8e"/><rect x="672" y="449.0" width="1" height="12.0" fill="#ee4c5f"/><rect x="671.7" y="449.3" width="1.6" height="6.6" fill="#ee4c5f"/><rect x="674" y="442.5" width="1" height="15.0" fill="#2c9c8e"/><rect x="673.7" y="446.2" width="1.6" height="9.5" fill="#2c9c8e"/><rect x="676" y="432.5" width="1" height="28.5" fill="#ee4c5f"/><rect x="675.7" y="437.2" width="1.6" height="21.6" fill="#ee4c5f"/><rect x="678" y="449.0" width="1" height="8.5" fill="#2c9c8e"/><rect x="677.7" y="450.6" width="1.6" height="5.4" fill="#2c9c8e"/><rect x="680" y="450.0" width="1" height="6.0" fill="#2c9c8e"/><rect x="679.7" y="450.9" width="1.6" height="4.1" fill="#2c9c8e"/><rect x="682" y="445.0" width="1" height="10.0" fill="#2c9c8e"/><rect x="681.7" y="448.7" width="1.6" height="5.9" fill="#2c9c8e"/><rect x="685" y="440.0" width="1" height="12.5" fill="#2c9c8e"/><rect x="684.7" y="444.8" width="1.6" height="7.6" fill="#2c9c8e"/><rect x="688" y="437.5" width="1" height="13.5" fill="#2c9c8e"/><rect x="687.7" y="437.5" width="1.6" height="11.2" fill="#2c9c8e"/><rect x="690" y="429.0" width="1" height="18.5" fill="#2c9c8e"/><rect x="689.7" y="433.7" width="1.6" height="12.7" fill="#2c9c8e"/><rect x="692" y="415.0" width="1" height="24.0" fill="#2c9c8e"/><rect x="691.7" y="416.7" width="1.6" height="20.2" fill="#2c9c8e"/><rect x="694" y="382.5" width="1" height="52.5" fill="#2c9c8e"/><rect x="693.7" y="414.0" width="1.6" height="18.4" fill="#2c9c8e"/><rect x="696" y="385.0" width="1" height="19.0" fill="#2c9c8e"/><rect x="695.7" y="392.0" width="1.6" height="11.6" fill="#2c9c8e"/><rect x="698" y="389.0" width="1" height="11.0" fill="#ee4c5f"/><rect x="697.7" y="391.5" width="1.6" height="6.7" fill="#ee4c5f"/><rect x="700" y="395.0" width="1" height="19.0" fill="#ee4c5f"/><rect x="699.7" y="399.1" width="1.6" height="11.3" fill="#ee4c5f"/><rect x="702" y="397.5" width="1" height="8.5" fill="#2c9c8e"/><rect x="701.7" y="397.7" width="1.6" height="7.1" fill="#2c9c8e"/><rect x="705" y="391.0" width="1" height="8.0" fill="#2c9c8e"/><rect x="704.7" y="391.8" width="1.6" height="6.4" fill="#2c9c8e"/><rect x="707" y="375.0" width="1" height="20.0" fill="#2c9c8e"/><rect x="706.7" y="377.6" width="1.6" height="16.3" fill="#2c9c8e"/><rect x="709" y="376.0" width="1" height="16.5" fill="#ee4c5f"/><rect x="708.7" y="381.6" width="1.6" height="10.2" fill="#ee4c5f"/><rect x="711" y="379.0" width="1" height="15.0" fill="#ee4c5f"/><rect x="710.7" y="379.1" width="1.6" height="10.4" fill="#ee4c5f"/><rect x="713" y="381.0" width="1" height="11.5" fill="#ee4c5f"/><rect x="712.7" y="383.5" width="1.6" height="6.3" fill="#ee4c5f"/><rect x="715" y="354.0" width="1" height="33.5" fill="#2c9c8e"/><rect x="714.7" y="357.2" width="1.6" height="23.0" fill="#2c9c8e"/><rect x="717" y="369.0" width="1" height="20.0" fill="#2c9c8e"/><rect x="716.7" y="371.8" width="1.6" height="11.8" fill="#2c9c8e"/><rect x="720" y="350.0" width="1" height="26.0" fill="#2c9c8e"/><rect x="719.7" y="357.8" width="1.6" height="16.8" fill="#2c9c8e"/><rect x="722" y="336.0" width="1" height="31.5" fill="#2c9c8e"/><rect x="721.7" y="346.6" width="1.6" height="17.3" fill="#2c9c8e"/><rect x="724" y="340.0" width="1" height="20.0" fill="#ee4c5f"/><rect x="723.7" y="340.5" width="1.6" height="16.0" fill="#ee4c5f"/><rect x="726" y="342.5" width="1" height="16.5" fill="#2c9c8e"/><rect x="725.7" y="344.5" width="1.6" height="13.7" fill="#2c9c8e"/><rect x="729" y="317.5" width="1" height="48.5" fill="#ee4c5f"/><rect x="728.7" y="332.1" width="1.6" height="17.0" fill="#ee4c5f"/><rect x="732" y="324.0" width="1" height="45.0" fill="#aaa7a2"/><rect x="731.7" y="330.1" width="1.6" height="28.7" fill="#aaa7a2"/><rect x="734" y="321.0" width="1" height="43.0" fill="#ee4c5f"/><rect x="733.7" y="335.3" width="1.6" height="28.7" fill="#ee4c5f"/><rect x="736" y="336.0" width="1" height="40.0" fill="#ee4c5f"/><rect x="735.7" y="339.9" width="1.6" height="29.1" fill="#ee4c5f"/><rect x="738" y="351.0" width="1" height="26.5" fill="#ee4c5f"/><rect x="737.7" y="353.3" width="1.6" height="18.0" fill="#ee4c5f"/><rect x="740" y="369.0" width="1" height="22.0" fill="#ee4c5f"/><rect x="739.7" y="370.0" width="1.6" height="12.4" fill="#ee4c5f"/><rect x="742" y="370.0" width="1" height="20.0" fill="#ee4c5f"/><rect x="741.7" y="371.1" width="1.6" height="16.0" fill="#ee4c5f"/><rect x="744" y="380.0" width="1" height="22.5" fill="#ee4c5f"/><rect x="743.7" y="380.9" width="1.6" height="18.7" fill="#ee4c5f"/><rect x="747" y="387.5" width="1" height="33.5" fill="#2c9c8e"/><rect x="746.7" y="393.8" width="1.6" height="21.1" fill="#2c9c8e"/><rect x="749" y="387.5" width="1" height="22.5" fill="#ee4c5f"/><rect x="748.7" y="390.8" width="1.6" height="13.7" fill="#ee4c5f"/><rect x="752" y="384.0" width="1" height="31.0" fill="#2c9c8e"/><rect x="751.7" y="388.5" width="1.6" height="25.9" fill="#2c9c8e"/><rect x="754" y="391.0" width="1" height="25.0" fill="#ee4c5f"/><rect x="753.7" y="394.3" width="1.6" height="19.8" fill="#ee4c5f"/><rect x="756" y="385.0" width="1" height="35.0" fill="#aaa7a2"/><rect x="755.7" y="390.8" width="1.6" height="28.8" fill="#aaa7a2"/><rect x="758" y="396.0" width="1" height="23.0" fill="#ee4c5f"/><rect x="757.7" y="400.7" width="1.6" height="16.4" fill="#ee4c5f"/><rect x="760" y="401.0" width="1" height="11.5" fill="#ee4c5f"/><rect x="759.7" y="404.7" width="1.6" height="6.5" fill="#ee4c5f"/><rect x="762" y="405.0" width="1" height="6.0" fill="#2c9c8e"/><rect x="761.7" y="406.4" width="1.6" height="4.1" fill="#2c9c8e"/><rect x="764" y="401.0" width="1" height="8.0" fill="#2c9c8e"/><rect x="763.7" y="401.6" width="1.6" height="5.9" fill="#2c9c8e"/><rect x="767" y="404.0" width="1" height="6.0" fill="#2c9c8e"/><rect x="766.7" y="406.4" width="1.6" height="3.4" fill="#2c9c8e"/><rect x="769" y="402.5" width="1" height="6.5" fill="#2c9c8e"/><rect x="768.7" y="403.8" width="1.6" height="3.8" fill="#2c9c8e"/><rect x="772" y="399.0" width="1" height="7.0" fill="#2c9c8e"/><rect x="771.7" y="399.7" width="1.6" height="4.6" fill="#2c9c8e"/><rect x="774" y="384.0" width="1" height="21.0" fill="#2c9c8e"/><rect x="773.7" y="388.7" width="1.6" height="16.2" fill="#2c9c8e"/><rect x="776" y="390.0" width="1" height="14.0" fill="#ee4c5f"/><rect x="775.7" y="393.4" width="1.6" height="8.8" fill="#ee4c5f"/><rect x="778" y="374.0" width="1" height="30.0" fill="#2c9c8e"/><rect x="777.7" y="380.0" width="1.6" height="19.2" fill="#2c9c8e"/><rect x="780" y="377.5" width="1" height="22.5" fill="#ee4c5f"/><rect x="779.7" y="378.7" width="1.6" height="15.0" fill="#ee4c5f"/><rect x="782" y="387.5" width="1" height="28.5" fill="#ee4c5f"/><rect x="781.7" y="389.9" width="1.6" height="17.1" fill="#ee4c5f"/><rect x="784" y="392.5" width="1" height="15.0" fill="#2c9c8e"/><rect x="783.7" y="393.8" width="1.6" height="12.3" fill="#2c9c8e"/><rect x="786" y="385.0" width="1" height="21.0" fill="#2c9c8e"/><rect x="785.7" y="392.3" width="1.6" height="12.9" fill="#2c9c8e"/><rect x="789" y="384.0" width="1" height="16.0" fill="#2c9c8e"/><rect x="788.7" y="385.1" width="1.6" height="13.6" fill="#2c9c8e"/><rect x="792" y="376.0" width="1" height="18.0" fill="#2c9c8e"/><rect x="791.7" y="377.4" width="1.6" height="10.7" fill="#2c9c8e"/><rect x="794" y="294.0" width="1" height="92.0" fill="#2c9c8e"/><rect x="793.7" y="349.2" width="1.6" height="32.2" fill="#2c9c8e"/><rect x="796" y="295.0" width="1" height="17.5" fill="#2c9c8e"/><rect x="795.7" y="295.6" width="1.6" height="11.4" fill="#2c9c8e"/><rect x="798" y="304.0" width="1" height="25.0" fill="#ee4c5f"/><rect x="797.7" y="306.4" width="1.6" height="15.5" fill="#ee4c5f"/></g>
<path d="M100.0 0.0C101.8 0.9 107.0 3.8 111.0 5.6C115.0 7.4 117.3 8.2 124.0 11.0C130.7 13.8 144.3 17.5 151.0 22.5C157.7 27.5 159.8 33.9 164.0 41.0C168.2 48.1 172.0 57.2 176.0 65.0C180.0 72.8 184.3 81.3 188.0 88.0C191.7 94.7 194.2 98.8 198.0 105.0C201.8 111.2 202.3 116.3 211.0 125.0C219.7 133.7 241.4 147.8 250.0 157.0C258.6 166.2 256.7 169.1 262.5 180.0C268.3 190.9 277.1 209.2 285.0 222.5C292.9 235.8 303.3 248.3 310.0 260.0C316.7 271.7 320.0 281.7 325.0 292.5C330.0 303.3 333.3 314.6 340.0 325.0C346.7 335.4 354.6 345.8 365.0 355.0C375.4 364.2 394.2 373.3 402.5 380.0C410.8 386.7 410.8 391.7 415.0 395.0C419.2 398.3 422.5 399.8 427.5 400.0C432.5 400.2 439.2 395.8 445.0 396.0C450.8 396.2 456.2 401.3 462.5 401.0C468.8 400.7 475.4 396.5 482.5 394.0C489.6 391.5 497.1 386.7 505.0 386.0C512.9 385.3 522.5 387.2 530.0 390.0C537.5 392.8 544.2 398.3 550.0 402.5C555.8 406.7 558.3 411.9 565.0 415.0C571.7 418.1 582.1 418.7 590.0 421.0C597.9 423.3 604.6 426.5 612.5 429.0C620.4 431.5 629.2 433.8 637.5 436.0C645.8 438.2 654.2 441.4 662.5 442.5C670.8 443.6 678.8 444.6 687.5 442.5C696.2 440.4 708.3 433.6 715.0 430.0C721.7 426.4 723.3 422.8 727.5 421.0C731.7 419.2 733.8 420.0 740.0 419.0C746.2 418.0 757.5 416.5 765.0 415.0C772.5 413.5 779.2 412.1 785.0 410.0C790.8 407.9 797.5 403.8 800.0 402.5" fill="none" stroke="#55dde8" stroke-width="1.2" stroke-linejoin="round"/>
<path d="M100.0 5.0C102.0 7.5 108.0 15.2 112.0 20.0C116.0 24.8 120.7 30.2 124.0 34.0C127.3 37.8 128.2 39.6 132.0 43.0C135.8 46.4 142.3 50.0 147.0 54.5C151.7 59.0 156.2 64.4 160.0 70.0C163.8 75.6 167.0 80.8 169.5 88.0C172.0 95.2 171.6 101.0 175.0 113.0C178.4 125.0 185.8 148.5 190.0 160.0C194.2 171.5 196.2 175.8 200.0 182.0C203.8 188.2 207.5 194.1 212.5 197.5C217.5 200.9 224.2 199.2 230.0 202.5C235.8 205.8 242.5 210.4 247.5 217.5C252.5 224.6 254.6 233.8 260.0 245.0C265.4 256.2 272.9 271.2 280.0 285.0C287.1 298.8 296.7 315.8 302.5 327.5C308.3 339.2 310.8 342.9 315.0 355.0C319.2 367.1 323.3 388.3 327.5 400.0C331.7 411.7 335.8 419.0 340.0 425.0C344.2 431.0 348.3 433.1 352.5 436.0C356.7 438.9 358.8 442.0 365.0 442.5C371.2 443.0 383.8 438.6 390.0 439.0C396.2 439.4 397.9 441.7 402.5 445.0C407.1 448.3 412.5 459.4 417.5 459.0C422.5 458.6 427.1 447.2 432.5 442.5C437.9 437.8 442.9 434.1 450.0 431.0C457.1 427.9 468.8 428.3 475.0 424.0C481.2 419.7 482.5 410.8 487.5 405.0C492.5 399.2 497.9 390.5 505.0 389.0C512.1 387.5 522.5 390.4 530.0 396.0C537.5 401.6 543.3 415.3 550.0 422.5C556.7 429.7 562.5 435.7 570.0 439.0C577.5 442.3 587.9 440.8 595.0 442.5C602.1 444.2 605.4 446.9 612.5 449.0C619.6 451.1 629.2 453.3 637.5 455.0C645.8 456.7 655.4 458.8 662.5 459.0C669.6 459.2 673.8 457.9 680.0 456.0C686.2 454.1 695.0 451.0 700.0 447.5C705.0 444.0 706.2 439.2 710.0 435.0C713.8 430.8 718.3 427.1 722.5 422.5C726.7 417.9 730.0 410.6 735.0 407.5C740.0 404.4 746.7 404.6 752.5 404.0C758.3 403.4 764.6 404.7 770.0 404.0C775.4 403.3 780.0 402.3 785.0 400.0C790.0 397.7 797.5 391.7 800.0 390.0" fill="none" stroke="#f8a15a" stroke-width="1.1" stroke-linejoin="round"/>
<path d="M105.0 4.0C105.7 5.0 106.7 6.0 109.0 10.0C111.3 14.0 116.2 22.5 119.0 28.0C121.8 33.5 122.9 38.3 126.0 43.0C129.1 47.7 134.1 51.3 137.6 56.0C141.1 60.7 143.6 65.7 147.0 71.0C150.4 76.3 155.0 80.7 158.0 88.0C161.0 95.3 162.8 103.0 165.0 115.0C167.2 127.0 168.9 146.2 171.0 160.0C173.1 173.8 174.3 183.8 177.5 197.5C180.7 211.2 185.4 232.1 190.0 242.5C194.6 252.9 201.2 256.4 205.0 260.0C208.8 263.6 210.0 266.1 212.5 264.0C215.0 261.9 217.5 251.9 220.0 247.5C222.5 243.1 225.0 238.8 227.5 237.5C230.0 236.2 231.7 238.8 235.0 240.0C238.3 241.2 244.6 240.8 247.5 245.0C250.4 249.2 250.4 255.8 252.5 265.0C254.6 274.2 257.1 290.4 260.0 300.0C262.9 309.6 266.7 314.8 270.0 322.5C273.3 330.2 276.7 338.5 280.0 346.0C283.3 353.5 286.2 359.8 290.0 367.5C293.8 375.2 298.8 385.8 302.5 392.5C306.2 399.2 309.6 399.6 312.5 407.5C315.4 415.4 317.9 429.2 320.0 440.0C322.1 450.8 322.9 464.0 325.0 472.5C327.1 481.0 330.0 486.4 332.5 491.0C335.0 495.6 337.5 498.5 340.0 500.0C342.5 501.5 344.6 501.7 347.5 500.0C350.4 498.3 353.8 494.6 357.5 490.0C361.2 485.4 365.8 478.3 370.0 472.5C374.2 466.7 378.8 459.4 382.5 455.0C386.2 450.6 389.2 446.8 392.5 446.0C395.8 445.2 399.6 446.0 402.5 450.0C405.4 454.0 407.8 464.8 410.0 470.0C412.2 475.2 413.5 481.0 416.0 481.0C418.5 481.0 421.8 477.8 425.0 470.0C428.2 462.2 431.7 442.5 435.0 434.0C438.3 425.5 441.2 420.9 445.0 419.0C448.8 417.1 453.3 423.2 457.5 422.5C461.7 421.8 466.2 417.9 470.0 415.0C473.8 412.1 477.5 410.0 480.0 405.0C482.5 400.0 483.3 391.5 485.0 385.0C486.7 378.5 488.3 370.0 490.0 366.0C491.7 362.0 492.5 362.0 495.0 361.0C497.5 360.0 502.5 358.5 505.0 360.0C507.5 361.5 506.7 365.8 510.0 370.0C513.3 374.2 520.8 380.4 525.0 385.0C529.2 389.6 531.7 391.2 535.0 397.5C538.3 403.8 541.7 414.6 545.0 422.5C548.3 430.4 551.7 437.5 555.0 445.0C558.3 452.5 561.7 464.2 565.0 467.5C568.3 470.8 571.2 466.7 575.0 465.0C578.8 463.3 583.8 460.2 587.5 457.5C591.2 454.8 594.2 449.4 597.5 449.0C600.8 448.6 603.8 453.2 607.5 455.0C611.2 456.8 615.8 458.5 620.0 460.0C624.2 461.5 627.5 463.2 632.5 464.0C637.5 464.8 645.0 464.8 650.0 465.0C655.0 465.2 658.3 465.8 662.5 465.0C666.7 464.2 670.8 462.1 675.0 460.0C679.2 457.9 683.3 456.7 687.5 452.5C691.7 448.3 695.4 442.1 700.0 435.0C704.6 427.9 710.8 417.1 715.0 410.0C719.2 402.9 721.7 398.3 725.0 392.5C728.3 386.7 732.1 377.9 735.0 375.0C737.9 372.1 739.6 374.0 742.5 375.0C745.4 376.0 748.8 378.1 752.5 381.0C756.2 383.9 761.2 390.0 765.0 392.5C768.8 395.0 771.7 395.6 775.0 396.0C778.3 396.4 782.1 396.4 785.0 395.0C787.9 393.6 790.0 392.1 792.5 387.5C795.0 382.9 798.8 370.8 800.0 367.5" fill="none" stroke="#ee5164" stroke-width="1.15" stroke-linejoin="round"/>
<path d="M157.0 0.0C157.5 0.7 154.2 -3.0 160.0 4.0C165.8 11.0 177.0 28.2 192.0 42.0C207.0 55.8 230.8 67.3 250.0 87.0C269.2 106.7 294.1 142.8 307.0 160.0C319.9 177.2 319.5 178.3 327.5 190.0C335.5 201.7 344.6 218.8 355.0 230.0C365.4 241.2 380.0 248.8 390.0 257.5C400.0 266.2 407.5 276.2 415.0 282.5C422.5 288.8 429.2 291.7 435.0 295.0C440.8 298.3 442.5 299.2 450.0 302.5C457.5 305.8 468.3 311.7 480.0 315.0C491.7 318.3 508.3 318.8 520.0 322.5C531.7 326.2 540.8 332.1 550.0 337.5C559.2 342.9 564.6 349.6 575.0 355.0C585.4 360.4 600.0 365.0 612.5 370.0C625.0 375.0 637.1 380.8 650.0 385.0C662.9 389.2 679.2 393.5 690.0 395.0C700.8 396.5 706.7 394.8 715.0 394.0C723.3 393.2 731.7 390.0 740.0 390.0C748.3 390.0 756.7 393.6 765.0 394.0C773.3 394.4 784.2 393.3 790.0 392.5C795.8 391.7 798.3 389.6 800.0 389.0" fill="none" stroke="#4040dc" stroke-width="1.25" stroke-linejoin="round"/>
<g stroke="#6868ea" stroke-width="2.5" fill="none">
<line x1="246" y1="274.5" x2="490" y2="274.5"/>
<line x1="492" y1="314.4" x2="794" y2="314.4"/>
<line x1="330" y1="512.3" x2="407" y2="512.3"/>
<path d="M410.5 510.8H553"/>
<path d="M411 512V520" stroke-width="1.2"/>
</g>
<g stroke="#000" fill="none">
<line x1="207" y1="188.3" x2="1188" y2="188.3" stroke-width="2.4"/>
<line x1="0" y1="287.2" x2="1188" y2="287.2" stroke-width="2.1"/>
<line x1="794" y1="312.2" x2="1188" y2="312.2" stroke-width="1.9"/>
<line x1="0" y1="322.2" x2="1188" y2="322.2" stroke-width="2.4"/>
<line x1="253.5" y1="360.6" x2="973.5" y2="150.5" stroke-width="2.5" stroke-linecap="round"/>
<line x1="313.5" y1="601.3" x2="1016" y2="382.3" stroke-width="2.5" stroke-linecap="round"/>
</g>
<line x1="632" y1="466" x2="644" y2="467" stroke="#6b3fd6" stroke-width="2"/>
<rect x="670" y="452" width="5" height="4" fill="#4f74c4" opacity="0.8"/>
<rect x="795" y="316" width="62" height="14" fill="#a7b1b5" opacity="0.75"/>
<line x1="0" y1="292" x2="1188" y2="292" stroke="#5a857b" stroke-width="1" stroke-dasharray="1.2 2.1"/>
<line x1="800.4" y1="291" x2="800.4" y2="329.5" stroke="#1f7468" stroke-width="1"/>
<rect x="793" y="331.5" width="9" height="2.2" fill="#0b2b2b"/>
<g stroke="#35b8d6"><line x1="795" y1="357.8" x2="840" y2="357.8" stroke-width="1.2"/><line x1="795" y1="361" x2="866" y2="361" stroke-width="2"/><line x1="850" y1="375" x2="866" y2="375" stroke-width="1.5"/><line x1="795" y1="381" x2="866" y2="381" stroke-width="1.8"/></g>
<rect x="795" y="363" width="62" height="5" fill="#e4f5fa"/>
<text x="780" y="355" font-size="17" fill="#1a1a1a" stroke="#1a1a1a" stroke-width="0.25" textLength="69" lengthAdjust="spacingAndGlyphs">92.401K</text>
<text x="780" y="374.6" font-size="17" fill="#1a1a1a" stroke="#1a1a1a" stroke-width="0.25" textLength="69" lengthAdjust="spacingAndGlyphs">45.886K</text>
<text x="781" y="489.3" font-size="17" fill="#6b7275" textLength="67" lengthAdjust="spacingAndGlyphs">12.516K</text>
<g fill="#1d2b2b" stroke="#1d2b2b" stroke-width="0.2">
<text x="756" y="468.5" font-size="10.5" textLength="40" lengthAdjust="spacingAndGlyphs">Demand</text>
<text x="744" y="478.5" font-size="12.5" textLength="50" lengthAdjust="spacingAndGlyphs">Demand</text>
<text x="738" y="489.5" font-size="10.5" textLength="57" lengthAdjust="spacingAndGlyphs">Demand 1D</text>
<text x="755" y="552.5" font-size="10.5" textLength="41" lengthAdjust="spacingAndGlyphs">Demand</text>
</g>
<path d="M857 361L867 351V348.5Q867 345.5 870 345.5H937Q940 345.5 940 348.5V372H867V371Z" fill="#1db3d0"/>
<path d="M857 381L867 371V366H940.5Q943.5 366 943.5 369V393Q943.5 396 940.5 396H870Q867 396 867 393V391Z" fill="#1db3d0"/>
<path d="M857 487.5L867 477.5V475Q867 472 870 472H944Q947 472 947 475V500.5Q947 503.5 944 503.5H870Q867 503.5 867 500.5V497.5Z" fill="#1db3d0"/>
<g fill="#0c2a33" font-size="14.5">
<text x="873.5" y="365.8" textLength="59" lengthAdjust="spacingAndGlyphs">21.115K</text>
<text x="875.5" y="386.3" textLength="59" lengthAdjust="spacingAndGlyphs">12.164K</text>
<text x="875.6" y="493.3" textLength="59.5" lengthAdjust="spacingAndGlyphs">41.258K</text>
</g>
<path d="M812.5 320.5L841 200.5L871.5 275.5L888.5 241.5L973.5 501.5L1007.5 400L1036.5 452.5L1111 71" fill="none" stroke="#2a5de8" stroke-width="2.6" stroke-linejoin="round" stroke-linecap="round"/>
<path d="M1096.5 80.5L1111 70.5L1121.5 85.5" fill="none" stroke="#2a5de8" stroke-width="2.6" stroke-linejoin="round" stroke-linecap="round"/>
<line x1="1093.5" y1="3" x2="1093.5" y2="652" stroke="#8d9097" stroke-width="1" stroke-dasharray="6 6.8"/>
<line x1="0" y1="571.5" x2="1161" y2="571.5" stroke="#8d9097" stroke-width="1" stroke-dasharray="6 6.8"/>
<g><circle cx="800.4" cy="635.8" r="12.1" fill="#fff" stroke="#8a21a8" stroke-width="1.8"/><path d="M804 629.6L795.6 637.2H799.8L797 642.4L805.4 634.6H801.2Z" fill="#8a21a8" stroke="#8a21a8" stroke-width="0.7" stroke-linejoin="round"/><circle cx="809.2" cy="627" r="4.6" fill="#fff"/><circle cx="809.2" cy="627" r="3.1" fill="#f0323f"/></g>
<g fill="#fff" opacity="0.6">
<rect x="0" y="4" width="892" height="38"/>
<rect x="0" y="42" width="250" height="46"/>
<rect x="0" y="88" width="110" height="34"/>
<rect x="0" y="122" width="123" height="30"/>
<rect x="0" y="157" width="482" height="26"/>
</g>
<circle cx="21.9" cy="19.7" r="7" fill="#0f9688"/><path d="M19.3 17.6H24.5V19H22.7V22.6H21.1V19H19.3Z" fill="#d9f3ee"/>
<circle cx="14" cy="27.5" r="8.8" fill="#fff"/><circle cx="14" cy="27.5" r="7.5" fill="#3f4b9c"/><path d="M14 21.8L17.3 27.4L14 33.2L10.7 27.4Z" fill="#c9d1ff"/><path d="M14 24.8L15.9 27.4L14 30L12.1 27.4Z" fill="#9aa6f0"/>
<text x="35.3" y="31.3" font-size="18.8" stroke="#131722" stroke-width="0.35" fill="#131722" textLength="314.5" lengthAdjust="spacingAndGlyphs">Ethereum / TetherUS · 6h · Binance</text>
<circle cx="370.6" cy="24.3" r="9" fill="#d5ece8"/><circle cx="370.6" cy="24.3" r="4.3" fill="#0f9c84"/>
<g font-size="16.5">
<text x="393" y="30.3" fill="#131722" textLength="12" lengthAdjust="spacingAndGlyphs">O</text>
<text x="408" y="30.3" fill="#1f9d88" textLength="69" lengthAdjust="spacingAndGlyphs">3,286.22</text>
<text x="485.4" y="30.3" fill="#131722" textLength="10.6" lengthAdjust="spacingAndGlyphs">H</text>
<text x="498" y="30.3" fill="#1f9d88" textLength="70" lengthAdjust="spacingAndGlyphs">3,372.96</text>
<text x="577.8" y="30.3" fill="#131722" textLength="7" lengthAdjust="spacingAndGlyphs">L</text>
<text x="587.6" y="30.3" fill="#1f9d88" textLength="69.7" lengthAdjust="spacingAndGlyphs">3,280.48</text>
<text x="665.9" y="30.3" fill="#131722" textLength="10.8" lengthAdjust="spacingAndGlyphs">C</text>
<text x="678.7" y="30.3" fill="#1f9d88" textLength="68.8" lengthAdjust="spacingAndGlyphs">3,371.62</text>
<text x="757.4" y="30.3" fill="#1f9d88" textLength="130.6" lengthAdjust="spacingAndGlyphs">+85.40 (+2.60%)</text>
</g>
<rect x="5.5" y="44.5" width="97" height="41.5" rx="6.5" fill="#fff" fill-opacity="0.8" stroke="#ea5a6c" stroke-width="1.4"/>
<text x="54" y="62.4" font-size="14.2" stroke="#e4405a" stroke-width="0.4" fill="#e4405a" text-anchor="middle" textLength="67.5" lengthAdjust="spacingAndGlyphs">3,371.87</text>
<text x="53.5" y="79.4" font-size="13" fill="#e4405a" text-anchor="middle" textLength="33" lengthAdjust="spacingAndGlyphs">SELL</text>
<text x="113" y="71" font-size="13" fill="#131722" textLength="26" lengthAdjust="spacingAndGlyphs">0.01</text>
<rect x="151.5" y="44.5" width="96" height="41.5" rx="6.5" fill="#fff" stroke="#3d63e6" stroke-width="1.3"/>
<text x="199.5" y="62.4" font-size="14.2" stroke="#3d63e6" stroke-width="0.4" fill="#3d63e6" text-anchor="middle" textLength="67.5" lengthAdjust="spacingAndGlyphs">3,371.88</text>
<text x="199.5" y="79.4" font-size="13" fill="#3d63e6" text-anchor="middle" textLength="29" lengthAdjust="spacingAndGlyphs">BUY</text>
<text x="7.4" y="113.3" font-size="15" fill="#131722" textLength="99.5" lengthAdjust="spacingAndGlyphs">Zones Pro v2</text>
<text x="8" y="143.3" font-size="15" fill="#b8bbc0" textLength="83" lengthAdjust="spacingAndGlyphs">MetaSignal</text>
<g transform="translate(114.2,137.3)" fill="none" stroke="#2a2e39" stroke-width="1.4"><path d="M-9.5 0Q0 -10 9.5 0Q0 10 -9.5 0Z"/><circle r="3"/><path d="M6.5 -7L-6.5 7.5" stroke-linecap="round"/></g>
<text x="7.4" y="173.8" font-size="15" fill="#131722" textLength="154.3" lengthAdjust="spacingAndGlyphs">EMA 20/50/100/200</text>
<text x="173" y="174" font-size="16.5" fill="#f0384f" textLength="70" lengthAdjust="spacingAndGlyphs">3,193.73</text>
<text x="252" y="174" font-size="16.5" fill="#fb8c2a" textLength="70" lengthAdjust="spacingAndGlyphs">3,141.71</text>
<text x="330" y="174" font-size="16.5" fill="#58dcec" textLength="70" lengthAdjust="spacingAndGlyphs">3,102.41</text>
<text x="408.5" y="174" font-size="16.5" fill="#2020d0" textLength="70" lengthAdjust="spacingAndGlyphs">3,134.73</text>
<rect x="5.5" y="188.5" width="35" height="24" rx="3" fill="#fff" stroke="#dcdfe5" stroke-width="1"/>
<path d="M18.5 203L23 198.5L27.5 203" fill="none" stroke="#131722" stroke-width="1.6"/>
<rect x="1188" y="3" width="92" height="649" fill="#fff"/>
<g font-size="16" fill="#131722">
<text x="1200.3" y="652.9" textLength="64" lengthAdjust="spacingAndGlyphs">2,500.00</text>
<text x="1200.3" y="612.0" textLength="64" lengthAdjust="spacingAndGlyphs">2,600.00</text>
<text x="1200.3" y="571.1" textLength="64" lengthAdjust="spacingAndGlyphs">2,700.00</text>
<text x="1200.3" y="530.2" textLength="64" lengthAdjust="spacingAndGlyphs">2,800.00</text>
<text x="1200.3" y="489.3" textLength="64" lengthAdjust="spacingAndGlyphs">2,900.00</text>
<text x="1200.3" y="448.4" textLength="64" lengthAdjust="spacingAndGlyphs">3,000.00</text>
<text x="1200.3" y="407.5" textLength="64" lengthAdjust="spacingAndGlyphs">3,100.00</text>
<text x="1200.3" y="366.6" textLength="64" lengthAdjust="spacingAndGlyphs">3,200.00</text>
<text x="1200.3" y="325.7" textLength="64" lengthAdjust="spacingAndGlyphs">3,300.00</text>
<text x="1200.3" y="284.8" textLength="64" lengthAdjust="spacingAndGlyphs">3,400.00</text>
<text x="1200.3" y="243.9" textLength="64" lengthAdjust="spacingAndGlyphs">3,500.00</text>
<text x="1200.3" y="203.0" textLength="64" lengthAdjust="spacingAndGlyphs">3,600.00</text>
<text x="1200.3" y="162.1" textLength="64" lengthAdjust="spacingAndGlyphs">3,700.00</text>
<text x="1200.3" y="121.2" textLength="64" lengthAdjust="spacingAndGlyphs">3,800.00</text>
<text x="1200.3" y="80.3" textLength="64" lengthAdjust="spacingAndGlyphs">3,900.00</text>
</g>
<path d="M1189 178.5H1269.5Q1272.5 178.5 1272.5 181.5V195.5Q1272.5 198.5 1269.5 198.5H1189Z" fill="#2e2e2e"/><text x="1200.3" y="193.3" font-size="16" fill="#fff" textLength="64" lengthAdjust="spacingAndGlyphs">3,624.32</text>
<path d="M1189 260.5H1269.5Q1272.5 260.5 1272.5 263.5V279Q1272.5 282 1269.5 282H1189Z" fill="#131313"/><text x="1200.3" y="275.2" font-size="16" fill="#fff" textLength="64" lengthAdjust="spacingAndGlyphs">3,384.39</text>
<path d="M1189 281.5H1269.5Q1272.5 281.5 1272.5 284.5V317.5Q1272.5 320.5 1269.5 320.5H1189Z" fill="#1a9e86"/><text x="1200.3" y="296.8" font-size="16" fill="#e9fff9" textLength="64" lengthAdjust="spacingAndGlyphs">3,371.62</text><text x="1200.3" y="313.2" font-size="16" fill="#e9fff9" fill-opacity="0.8" textLength="64" lengthAdjust="spacingAndGlyphs">01:45:40</text>
<path d="M1189 320.5H1269.5Q1272.5 320.5 1272.5 323.5V339Q1272.5 342 1269.5 342H1189Z" fill="#2e2e2e"/><text x="1200.3" y="335.6" font-size="16" fill="#fff" textLength="64" lengthAdjust="spacingAndGlyphs">3,322.30</text>
<path d="M1189 342H1269.5Q1272.5 342 1272.5 345V359Q1272.5 362 1269.5 362H1189Z" fill="#131313"/><text x="1200.3" y="356.8" font-size="16" fill="#fff" textLength="64" lengthAdjust="spacingAndGlyphs">3,297.96</text>
<path d="M1164 558.5H1188V584.5H1164Q1161 584.5 1161 581.5V561.5Q1161 558.5 1164 558.5Z" fill="#131722"/>
<path d="M1189.5 558.5H1269.5Q1272.5 558.5 1272.5 561.5V581.5Q1272.5 584.5 1269.5 584.5H1189.5Z" fill="#131722"/>
<g stroke="#fff" stroke-width="1.3" fill="none"><circle cx="1174.5" cy="571.5" r="8"/><path d="M1170 571.5H1179M1174.5 567V576"/></g>
<text x="1200.3" y="577" font-size="16" fill="#fff" textLength="64" lengthAdjust="spacingAndGlyphs">2,689.21</text>
<rect x="0" y="652" width="1280" height="13" fill="#fff"/>
<line x1="0" y1="652.5" x2="1280" y2="652.5" stroke="#dfe1e6" stroke-width="1.5"/>
<g stroke="#f1f2f4" stroke-width="1">
<line x1="140.5" y1="653" x2="140.5" y2="665"/>
<line x1="405.5" y1="653" x2="405.5" y2="665"/>
<line x1="681.5" y1="653" x2="681.5" y2="665"/>
<line x1="955.5" y1="653" x2="955.5" y2="665"/>
</g>
<path d="M349 665V662.5M800.4 665V661.5" stroke="#3b5bdb" stroke-width="1" fill="none"/>
<line x1="1093.5" y1="653" x2="1093.5" y2="665" stroke="#8d9097" stroke-width="1" stroke-dasharray="6 6.8" stroke-dashoffset="10.4"/>
<text x="1200.8" y="669.5" font-size="16" fill="#131722" textLength="52" lengthAdjust="spacingAndGlyphs">100.00</text>
<g fill="#fff" stroke="#e9eaee" stroke-width="1.2">
<rect x="1118.5" y="9.5" width="28.5" height="29.5" rx="4"/>
<rect x="1154" y="9.5" width="28.5" height="29.5" rx="4"/>
<rect x="1194" y="9.5" width="78.5" height="30.5" rx="4"/>
</g>
<path d="M1132.5 18.5V30M1128 25.5L1132.5 30L1137 25.5" fill="none" stroke="#131722" stroke-width="1.5"/>
<path d="M1162 22V20.5Q1162 17.5 1165 17.5H1171.5Q1174.5 17.5 1174.5 20.5V22M1162 26V27.5Q1162 30.5 1165 30.5H1171.5Q1174.5 30.5 1174.5 27.5V26" fill="none" stroke="#131722" stroke-width="1.6"/>
<text x="1198.5" y="30.5" font-size="15" fill="#131722" textLength="39.5" lengthAdjust="spacingAndGlyphs">USDT</text>
<path d="M1261 23.5L1264.5 27L1268 23.5" fill="none" stroke="#131722" stroke-width="1.7"/>
<rect x="0" y="0" width="1280" height="3.5" fill="#262626"/>
<path d="M1280 0V665H1278V9Q1278 3.5 1272.5 3.5H1260V0Z" fill="#262626"/>
<rect x="1274" y="9" width="4" height="643" fill="#fafafa"/>
</svg></body></html>
